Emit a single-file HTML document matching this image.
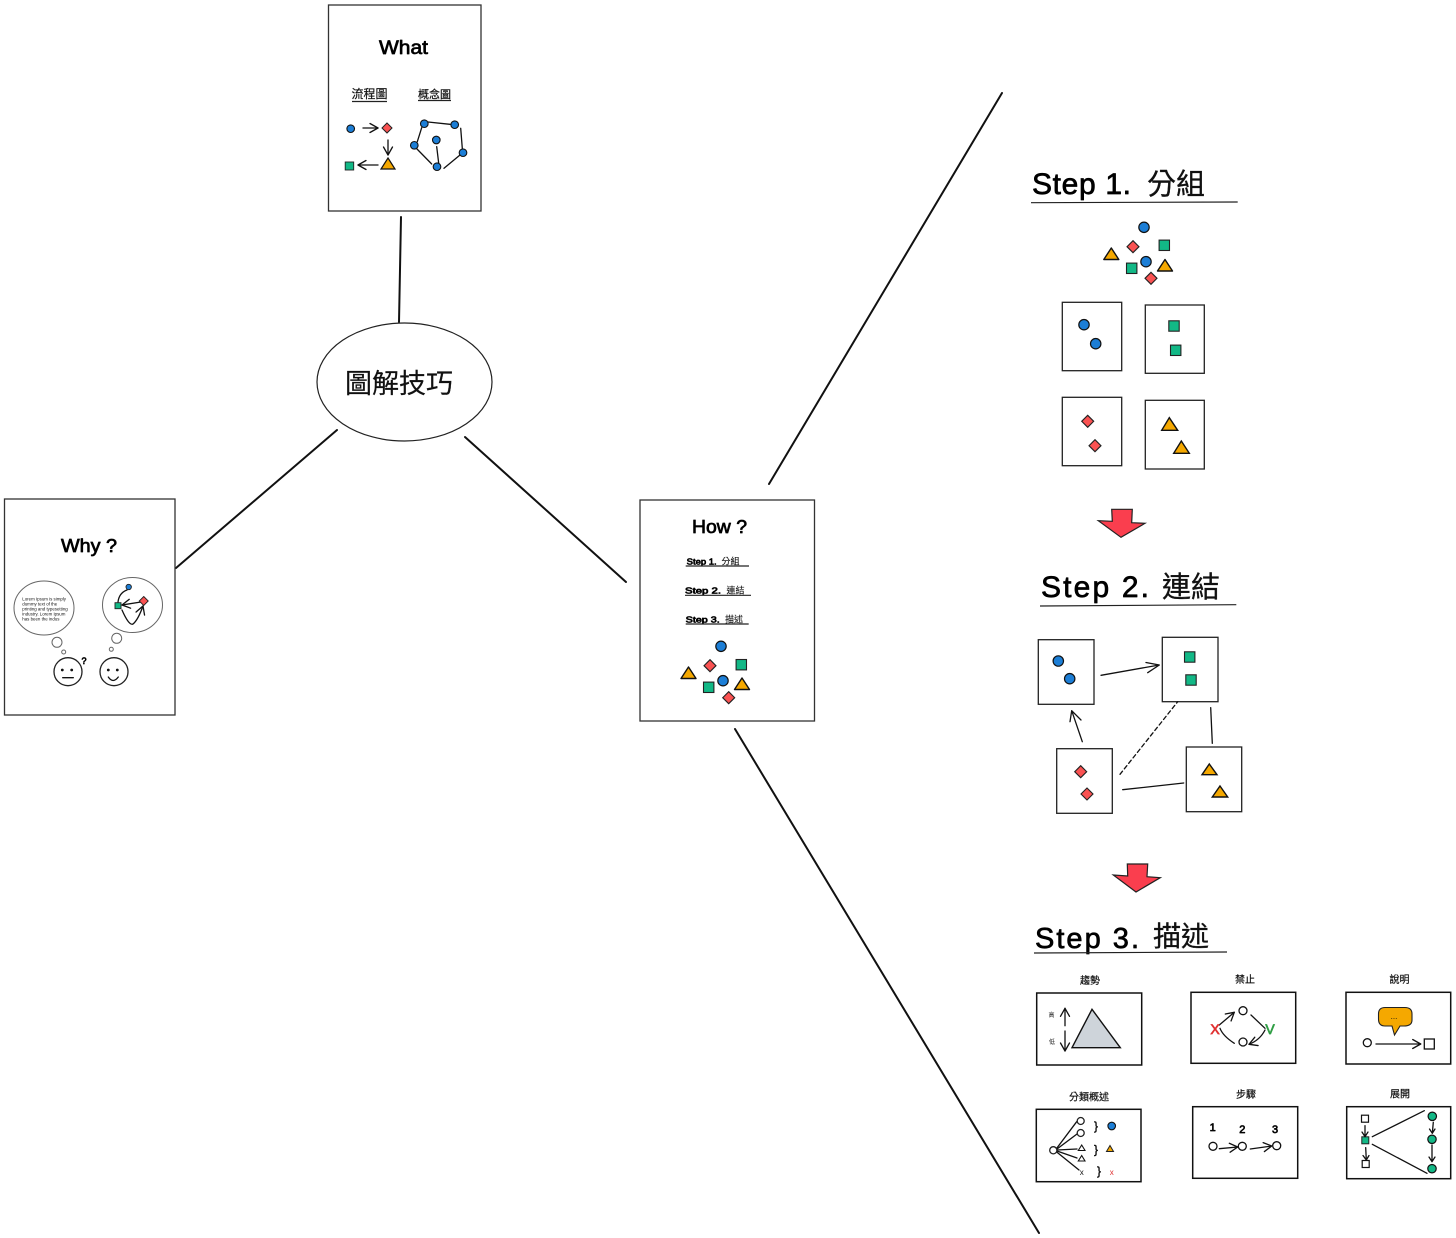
<!DOCTYPE html>
<html><head><meta charset="utf-8"><style>
html,body{margin:0;padding:0;background:#fff}
svg{display:block}
text{font-family:"Liberation Sans","Noto Sans CJK TC",sans-serif;fill:#111}
.h{font-family:"Liberation Sans",sans-serif;fill:#000;stroke:#000;stroke-width:.7;stroke-linejoin:round}
.l{font-size:10px;text-anchor:middle;stroke:#111;stroke-width:.2}
.p{fill:#fff;stroke:#333;stroke-width:1.3}
.n{fill:none;stroke:#111;stroke-width:1.3;stroke-linecap:round;stroke-linejoin:round}
.a{marker-end:url(#m)}
.w{fill:#fff;stroke:#222;stroke-width:1.3}
.g{fill:#fff;stroke:#666;stroke-width:1}
</style></head><body>
<svg width="1456" height="1238" viewBox="0 0 1456 1238" xmlns="http://www.w3.org/2000/svg">
<defs>
<marker id="m" markerUnits="userSpaceOnUse" markerWidth="14" markerHeight="14" refX="9" refY="5" orient="auto" overflow="visible"><path d="M1 .5L9 5L1 9.5" fill="none" stroke="#111" stroke-width="1.3" stroke-linecap="round" stroke-linejoin="round"/></marker>
<circle id="bc" r="5.2" fill="#1c7ed6" stroke="#111" stroke-width="1.2"/>
<circle id="bs" r="3.8" fill="#1c7ed6" stroke="#111" stroke-width="1.1"/>
<circle id="gc" r="4.2" fill="#12b886" stroke="#111" stroke-width="1.2"/>
<rect id="gq" x="-5.2" y="-5.2" width="10.4" height="10.4" fill="#12b886" stroke="#222" stroke-width="1.1"/>
<rect id="gs" x="-3.5" y="-3.5" width="7" height="7" fill="#12b886" stroke="#222" stroke-width="1"/>
<polygon id="rd" points="0,-6 6,0 0,6 -6,0" fill="#fa5252" stroke="#222" stroke-width="1.1"/>
<polygon id="rs" points="0,-5 5,0 0,5 -5,0" fill="#fa5252" stroke="#222" stroke-width="1"/>
<polygon id="ot" points="0,-6 7.5,5.5 -7.5,5.5" fill="#f5a800" stroke="#111" stroke-width="1.4" stroke-linejoin="round"/>
<circle id="wc" r="4" fill="#fff" stroke="#111" stroke-width="1.3"/>
</defs>
<rect width="1456" height="1238" fill="#fff"/>

<g fill="none" stroke="#111" stroke-width="2" stroke-linecap="round">
<path d="M401 217L399 322"/><path d="M337 430L176 568"/><path d="M465 437L626 582"/><path d="M769 484L1002 93"/><path d="M735 729L1039 1233"/>
</g>
<ellipse cx="404.5" cy="382" rx="87.5" ry="59" fill="#fff" stroke="#222" stroke-width="1.2"/>
<text x="399" y="393" font-size="27" text-anchor="middle" stroke="#111" stroke-width=".2">圖解技巧</text>

<!-- What -->
<rect class="p" x="328.5" y="5" width="152.5" height="206"/>
<text class="h" x="379" y="54" font-size="19" textLength="49" lengthAdjust="spacingAndGlyphs">What</text>
<text x="369.5" y="98" font-size="12" text-anchor="middle" stroke="#111" stroke-width=".2">流程圖</text>
<path d="M352 101.5H387" stroke="#222" stroke-width="1.2"/>
<text x="434.5" y="98" font-size="11" text-anchor="middle" stroke="#111" stroke-width=".2">概念圖</text>
<path d="M418 100.5H451" stroke="#222" stroke-width="1.2"/>
<use href="#bs" x="350.7" y="128.7"/><use href="#rs" x="387" y="128"/>
<polygon points="388,158 395,169 381,169" fill="#f5a800" stroke="#111" stroke-width="1.2"/>
<rect x="345.2" y="162" width="8.5" height="8" fill="#12b886" stroke="#222" stroke-width=".9"/>
<path class="n a" d="M363 128H378"/><path class="n a" d="M388 140V155"/><path class="n a" d="M378 165H358"/>
<g class="n"><path d="M428 122L450 124.3"/><path d="M421.7 127.7L417.3 141.7"/><path d="M417 149L431.7 164"/><path d="M436.7 146.7L438.7 163.3"/><path d="M444 168.3L460 155"/><path d="M460.7 128.3L462.3 148.3"/></g>
<use href="#bs" x="424.3" y="123.7"/><use href="#bs" x="454.7" y="124.7"/><use href="#bs" x="414.3" y="145.3"/><use href="#bs" x="436.3" y="140"/><use href="#bs" x="463" y="152.7"/><use href="#bs" x="437" y="166.7"/>

<!-- Why -->
<rect class="p" x="4.5" y="499" width="170.5" height="216"/>
<text class="h" x="61" y="552" font-size="18" textLength="56" lengthAdjust="spacingAndGlyphs">Why ?</text>
<ellipse class="g" cx="44" cy="608" rx="30" ry="27"/>
<ellipse class="g" cx="132.5" cy="605" rx="30" ry="27.5"/>
<circle class="g" cx="57" cy="642.3" r="5"/><circle class="g" cx="63.7" cy="652" r="2"/>
<circle class="g" cx="116.7" cy="638.3" r="5"/><circle class="g" cx="111.3" cy="649.3" r="2"/>
<g font-size="4.4">
<text x="22.3" y="600.5">Lorem Ipsum is simply</text><text x="22.3" y="605.5">dummy text of the</text><text x="22.3" y="610.5">printing and typesetting</text><text x="22.3" y="615.5">industry. Lorem Ipsum</text><text x="22.3" y="620.5">has been the indus</text>
</g>
<path class="n" d="M127 590Q119 593 118 602"/>
<path class="n a" d="M141 602L122 605"/><path class="n a" d="M122 610Q129 626 133 624Q138 620 143 606"/>
<use href="#rs" x="143.7" y="601" transform="translate(14.4 60.1) scale(.9)"/><rect x="115" y="602.7" width="6" height="6" fill="#12b886" stroke="#222" stroke-width=".9"/><circle cx="128.7" cy="587" r="2.7" fill="#1c7ed6" stroke="#222" stroke-width=".9"/>
<circle class="w" cx="68" cy="671.7" r="14"/><circle class="w" cx="114" cy="671.7" r="14"/>
<g fill="#111"><circle cx="62.3" cy="670" r="1.4"/><circle cx="71.7" cy="670" r="1.4"/><circle cx="108.3" cy="670" r="1.4"/><circle cx="117.3" cy="670" r="1.4"/></g>
<path class="n" d="M62.7 677.7H73.3"/><path class="n" d="M108.3 677Q113 684 118.3 677"/>
<text class="h" x="84" y="664" font-size="9" text-anchor="middle" stroke-width=".3">?</text>

<!-- How -->
<rect class="p" x="640" y="500" width="174.5" height="221"/>
<text class="h" x="692" y="533" font-size="18" textLength="55" lengthAdjust="spacingAndGlyphs">How ?</text>
<text class="h" x="686.7" y="564.5" font-size="8.5" stroke-width=".2" textLength="30" lengthAdjust="spacingAndGlyphs">Step 1.</text>
<text x="721.5" y="564.5" font-size="9" stroke="#111" stroke-width=".1">分組</text>
<text class="h" x="685" y="593.5" font-size="8.5" stroke-width=".2" textLength="36" lengthAdjust="spacingAndGlyphs">Step 2.</text>
<text x="726.5" y="593.5" font-size="9" stroke="#111" stroke-width=".1">連結</text>
<text class="h" x="685.7" y="622.5" font-size="8.5" stroke-width=".2" textLength="34" lengthAdjust="spacingAndGlyphs">Step 3.</text>
<text x="725" y="622.5" font-size="9" stroke="#111" stroke-width=".1">描述</text>
<g stroke="#222" stroke-width="1.2"><path d="M685.7 566H749"/><path d="M685 595.3H751"/><path d="M685.7 624H748.7"/></g>
<use href="#bc" x="721" y="646.3"/><use href="#rd" x="710" y="665.7"/><use href="#gq" x="741.3" y="664.7"/><use href="#ot" x="688.5" y="673"/><use href="#bc" x="723" y="680.7"/><use href="#gq" x="708.7" y="687.3"/><use href="#ot" x="742" y="684"/><use href="#rd" x="728.7" y="697.7"/>

<!-- Step 1 -->
<text class="h" x="1032" y="194" font-size="30" stroke-width="1" textLength="99" lengthAdjust="spacing">Step 1.</text>
<text x="1147" y="194" font-size="29" stroke="#111" stroke-width=".3">分組</text>
<path d="M1031 202.7L1237.7 202" stroke="#222" stroke-width="1.2"/>
<use href="#bc" x="1144" y="227.3"/><use href="#rd" x="1133" y="246.7"/><use href="#gq" x="1164.3" y="245.3"/><use href="#ot" x="1111.3" y="254"/><use href="#bc" x="1146" y="261.7"/><use href="#gq" x="1131.7" y="268.3"/><use href="#ot" x="1165" y="265.5"/><use href="#rd" x="1151" y="278.3"/>
<rect class="w" x="1062.3" y="302.3" width="59.4" height="68.4"/><rect class="w" x="1145.3" y="305" width="59" height="68.3"/><rect class="w" x="1062.3" y="397.3" width="59.4" height="68.4"/><rect class="w" x="1145.3" y="400.3" width="59" height="68.7"/>
<use href="#bc" x="1084" y="324.7"/><use href="#bc" x="1095.7" y="343.7"/><use href="#gq" x="1174" y="326"/><use href="#gq" x="1175.7" y="350.3"/><use href="#rd" x="1087.7" y="421.3"/><use href="#rd" x="1095" y="445.7"/>
<polygon points="1169.3,417.7 1177.7,430.3 1161.7,430.3" fill="#f5a800" stroke="#111" stroke-width="1.4"/><polygon points="1181.3,441 1189.3,453.3 1173.7,453.3" fill="#f5a800" stroke="#111" stroke-width="1.4"/>

<polygon points="1111.7,509.3 1132.3,509.3 1131.7,522.7 1145,523.3 1121,537.3 1098.3,520.7 1112.3,521.3" fill="#fa3e4e" stroke="#222" stroke-width="1.2"/>

<!-- Step 2 -->
<text class="h" x="1041" y="597" font-size="30" stroke-width="1" textLength="108" lengthAdjust="spacing">Step 2.</text>
<text x="1162" y="597" font-size="29" stroke="#111" stroke-width=".3">連結</text>
<path d="M1040 606L1236.3 604.7" stroke="#222" stroke-width="1.2"/>
<rect class="w" x="1038.3" y="639.7" width="55.7" height="64.6"/><rect class="w" x="1162.3" y="637.3" width="55.7" height="64.4"/><rect class="w" x="1056.7" y="748.7" width="55.6" height="64.6"/><rect class="w" x="1186.3" y="747" width="55.4" height="64.7"/>
<use href="#bc" x="1058.3" y="661"/><use href="#bc" x="1069.7" y="678.7"/><use href="#gq" x="1189.7" y="657"/><use href="#gq" x="1191" y="680"/><use href="#rd" x="1080.7" y="771.7"/><use href="#rd" x="1087" y="794"/>
<polygon points="1209.3,764 1217,774.7 1202,774.7" fill="#f5a800" stroke="#111" stroke-width="1.4"/><polygon points="1220,786 1227.7,797 1212.3,797" fill="#f5a800" stroke="#111" stroke-width="1.4"/>
<path class="n" d="M1101 675.3L1159.3 665M1146 662.5L1159.3 665L1147.7 672.7"/>
<path class="n" d="M1082.3 741.7L1071.7 710.7M1070 721.7L1071.7 710.7L1081 720"/>
<path class="n" d="M1120 774.3L1177.7 701.7" stroke-dasharray="4 3"/>
<path class="n" d="M1210.7 707.7L1212.3 743.3"/><path class="n" d="M1122.7 789.7L1183.7 783"/>
<polygon points="1127.3,864 1147.7,864 1147,876.7 1160.3,877.7 1136,892 1113.3,875 1127.7,876" fill="#fa3e4e" stroke="#222" stroke-width="1.2"/>

<!-- Step 3 -->
<text class="h" x="1035" y="948" font-size="29" stroke-width="1" textLength="104" lengthAdjust="spacing">Step 3.</text>
<text x="1153" y="946" font-size="28" stroke="#111" stroke-width=".3">描述</text>
<path d="M1034 953L1227 952" stroke="#222" stroke-width="1.2"/>

<!-- panels -->
<g fill="#fff" stroke="#111" stroke-width="1.5">
<rect x="1036.7" y="993" width="105" height="72"/><rect x="1191" y="992.3" width="104.7" height="71"/><rect x="1346" y="992.3" width="104.7" height="71.7"/>
<rect x="1036.3" y="1109.3" width="104.7" height="72.4"/><rect x="1192.7" y="1106.7" width="105" height="71.6"/><rect x="1346.7" y="1106.7" width="104" height="72"/>
</g>
<text class="l" x="1090" y="984">趨勢</text><text class="l" x="1245" y="983">禁止</text><text class="l" x="1399.5" y="983">說明</text>
<text class="l" x="1089" y="1100.5">分類概述</text><text class="l" x="1246" y="1098">步驟</text><text class="l" x="1400" y="1097.5">展開</text>

<!-- trend -->
<polygon points="1092,1009.3 1120.3,1047.7 1072,1047.7" fill="#ced4da" stroke="#111" stroke-width="1.4"/>
<path class="n a" d="M1065 1025.7V1008.3"/><path class="n a" d="M1065 1031V1051"/>
<text x="1051.5" y="1017" font-size="6" text-anchor="middle">高</text><text x="1052" y="1044" font-size="6" text-anchor="middle">低</text>
<!-- forbid -->
<use href="#wc" x="1243" y="1010.7"/><use href="#wc" x="1243" y="1042"/>
<path class="n a" d="M1219.3 1025L1234.3 1012.3"/><path class="n" d="M1234.3 1043.3Q1223 1036 1220 1028.3"/>
<path class="n" d="M1251 1015L1265 1028.3"/><path class="n a" d="M1265 1030Q1260 1040 1249 1044.3"/>
<text x="1215" y="1034" font-size="14" text-anchor="middle" style="fill:#e03131;stroke:#e03131;stroke-width:.7">X</text>
<text x="1270" y="1034" font-size="14" text-anchor="middle" style="fill:#2f9e44;stroke:#2f9e44;stroke-width:.7">V</text>
<!-- note -->
<path d="M1385 1007.5H1405Q1412 1007.5 1412 1014V1020Q1412 1026 1404 1026H1400L1394.5 1035L1392 1026H1385Q1378.5 1026 1378.5 1019V1014Q1378.5 1007.5 1385 1007.5Z" fill="#f5a800" stroke="#222" stroke-width="1.1"/>
<text x="1394" y="1019" font-size="8" text-anchor="middle">...</text>
<use href="#wc" x="1367.3" y="1042.7"/><path class="n a" d="M1376 1044H1420.7"/>
<rect x="1424.3" y="1039" width="10" height="10" fill="#fff" stroke="#111" stroke-width="1.3"/>
<!-- classify -->
<g class="n" stroke-width="1.5"><path d="M1056.7 1148.3L1076.7 1121.7"/><path d="M1057 1149L1077 1134"/><path d="M1057 1150L1077 1149"/><path d="M1057 1151L1077 1158"/><path d="M1056.7 1152L1079 1170"/></g>
<circle class="w" cx="1053.3" cy="1150.3" r="3.6"/><circle class="w" cx="1080.7" cy="1121" r="3.5"/><circle class="w" cx="1080.7" cy="1133" r="3.5"/>
<polygon points="1081.7,1145 1085,1150.5 1078.3,1150.5" fill="#fff" stroke="#111" stroke-width="1.1"/><polygon points="1081.7,1155.5 1085,1161 1078.3,1161" fill="#fff" stroke="#111" stroke-width="1.1"/>
<text x="1081.7" y="1175" font-size="8" text-anchor="middle">x</text>
<g stroke="#111" stroke-width=".4"><text x="1096" y="1130" font-size="12" text-anchor="middle">}</text><text x="1096" y="1153.5" font-size="12" text-anchor="middle">}</text><text x="1099" y="1175" font-size="12" text-anchor="middle">}</text></g>
<use href="#bs" x="1111.7" y="1126"/>
<polygon points="1110,1145.5 1113.5,1151.5 1106.5,1151.5" fill="#f5a800" stroke="#222" stroke-width="1"/>
<text x="1111.7" y="1175" font-size="8" text-anchor="middle" style="fill:#e03131">x</text>
<!-- steps -->
<g font-size="11" text-anchor="middle" class="h" stroke-width=".3"><text x="1212.7" y="1131">1</text><text x="1242.3" y="1133">2</text><text x="1275" y="1133">3</text></g>
<use href="#wc" x="1213" y="1146.3"/><use href="#wc" x="1242.3" y="1146.3"/><use href="#wc" x="1276.7" y="1145.7"/>
<path class="n a" d="M1219.3 1148.7L1237.7 1147"/><path class="n a" d="M1250.3 1149L1271.7 1146"/>
<!-- expand -->
<path class="n" d="M1372.3 1136.7L1424.3 1110.7"/><path class="n" d="M1372.3 1144.3L1427 1173.3"/>
<rect x="1361.5" y="1115.2" width="7" height="7" fill="#fff" stroke="#111" stroke-width="1.2"/><use href="#gs" x="1365.3" y="1140.3"/><rect x="1362.2" y="1160.5" width="7" height="7" fill="#fff" stroke="#111" stroke-width="1.2"/>
<use href="#gc" x="1432.3" y="1116.3"/><use href="#gc" x="1432" y="1139.3"/><use href="#gc" x="1432" y="1168.7"/>
<g class="n"><path d="M1365 1125.7V1136.7M1362 1132L1365 1136.7L1368 1132"/><path d="M1365.7 1147.7L1366.3 1160M1363 1155.5L1366.3 1160L1369 1155.5"/><path d="M1433.3 1122.3L1432.3 1133.3M1429.5 1129L1432.3 1133.3L1435 1129"/><path d="M1432 1145V1161.7M1429 1157L1432 1161.7L1435 1157"/></g>
</svg>
</body></html>
